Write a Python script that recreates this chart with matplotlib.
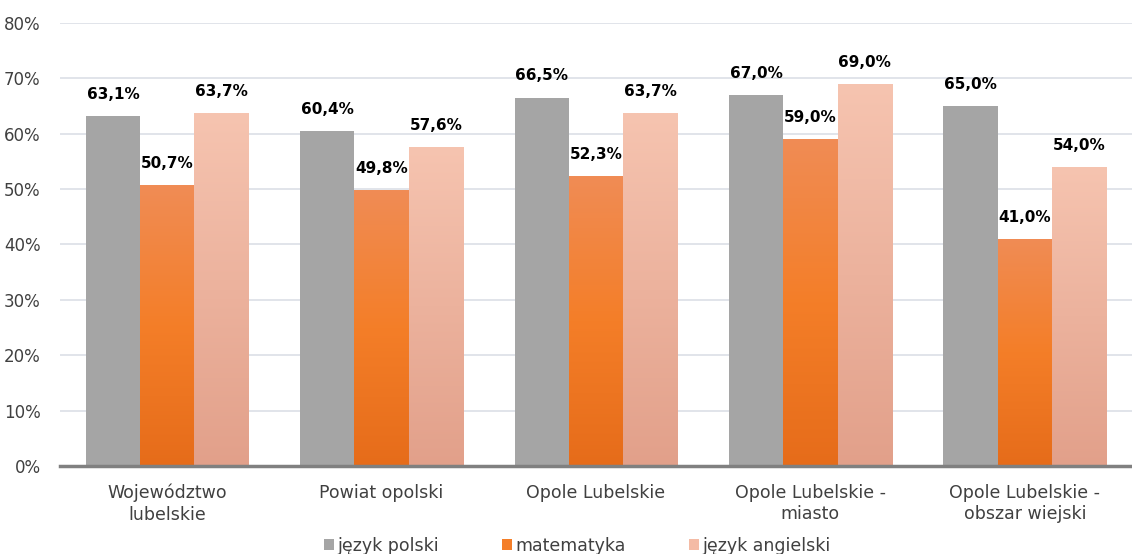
import matplotlib
matplotlib.use("Agg")
import matplotlib.pyplot as plt
import numpy as np
from matplotlib.colors import LinearSegmentedColormap
from matplotlib.patches import Rectangle

categories = ["Województwo\nlubelskie", "Powiat opolski", "Opole Lubelskie",
              "Opole Lubelskie -\nmiasto", "Opole Lubelskie -\nobszar wiejski"]
series_names = ["język polski", "matematyka", "język angielski"]
polski = [63.1, 60.4, 66.5, 67.0, 65.0]
matematyka = [50.7, 49.8, 52.3, 59.0, 41.0]
angielski = [63.7, 57.6, 63.7, 69.0, 54.0]
yticks = [0, 10, 20, 30, 40, 50, 60, 70, 80]

plt.rcParams['font.family'] = ['DejaVu Sans']

fig = plt.figure(figsize=(11.32, 5.54), dpi=100)
ax = fig.add_axes([0.053, 0.159, 0.947, 0.8])

# gradients (bottom -> top)
grads = [
    None,
    LinearSegmentedColormap.from_list("o", ["#E66C1A", "#F47E28", "#F08C55"]),
    LinearSegmentedColormap.from_list("p", ["#E2A08A", "#F6C4B0"]),
]
solid = ["#A5A5A5", "#F47E28", "#F4B9A2"]

x = np.arange(len(categories))
w = 0.253
offsets = [-w, 0, w]
data = [polski, matematyka, angielski]

grad_img = np.linspace(0, 1, 256).reshape(-1, 1)
for si, vals in enumerate(data):
    for i, v in enumerate(vals):
        xl = x[i] + offsets[si] - w / 2
        if grads[si] is None:
            ax.bar(x[i] + offsets[si], v, width=w, color=solid[si], zorder=2)
        else:
            rect = Rectangle((xl, 0), w, v, facecolor="none", edgecolor="none", zorder=2)
            ax.add_patch(rect)
            im = ax.imshow(grad_img, cmap=grads[si], origin="lower",
                           extent=[xl, xl + w, 0, v], aspect="auto", zorder=2)
            im.set_clip_path(rect)
        ax.text(x[i] + offsets[si], v + 3.9, f"{v:.1f}%".replace(".", ","),
                ha="center", va="center", fontsize=11, fontweight="bold", color="black")

ax.set_xlim(-0.5, len(categories) - 0.5)
ax.set_ylim(0, 80)
ax.set_yticks(yticks)
ax.set_yticklabels([f"{t}%" for t in yticks], fontsize=12, color="#404040")
ax.set_xticks(x)
ax.set_xticklabels(categories, fontsize=12.5, color="#404040", linespacing=1.25)
ax.tick_params(axis="both", length=0)
ax.tick_params(axis="x", pad=13)
ax.tick_params(axis="y", pad=14)
ax.grid(axis="y", color="#DCDFE6", linewidth=1.2, zorder=0)
ax.set_axisbelow(True)
for s in ["top", "right", "left"]:
    ax.spines[s].set_visible(False)
ax.spines["bottom"].set_color("#808080")
ax.spines["bottom"].set_linewidth(2.5)
ax.spines["bottom"].set_zorder(3)

handles = [Rectangle((0, 0), 1, 1, facecolor=c) for c in ["#A5A5A5", "#F47E28", "#F4BBA5"]]
fig.legend(handles, series_names, loc="lower center", ncol=3, frameon=False,
           fontsize=12.5, bbox_to_anchor=(0.51, -0.03), handlelength=0.6, handleheight=0.6,
           handletextpad=0.2, columnspacing=3.6, labelcolor="#404040")

fig.savefig("out.png", dpi=100)
